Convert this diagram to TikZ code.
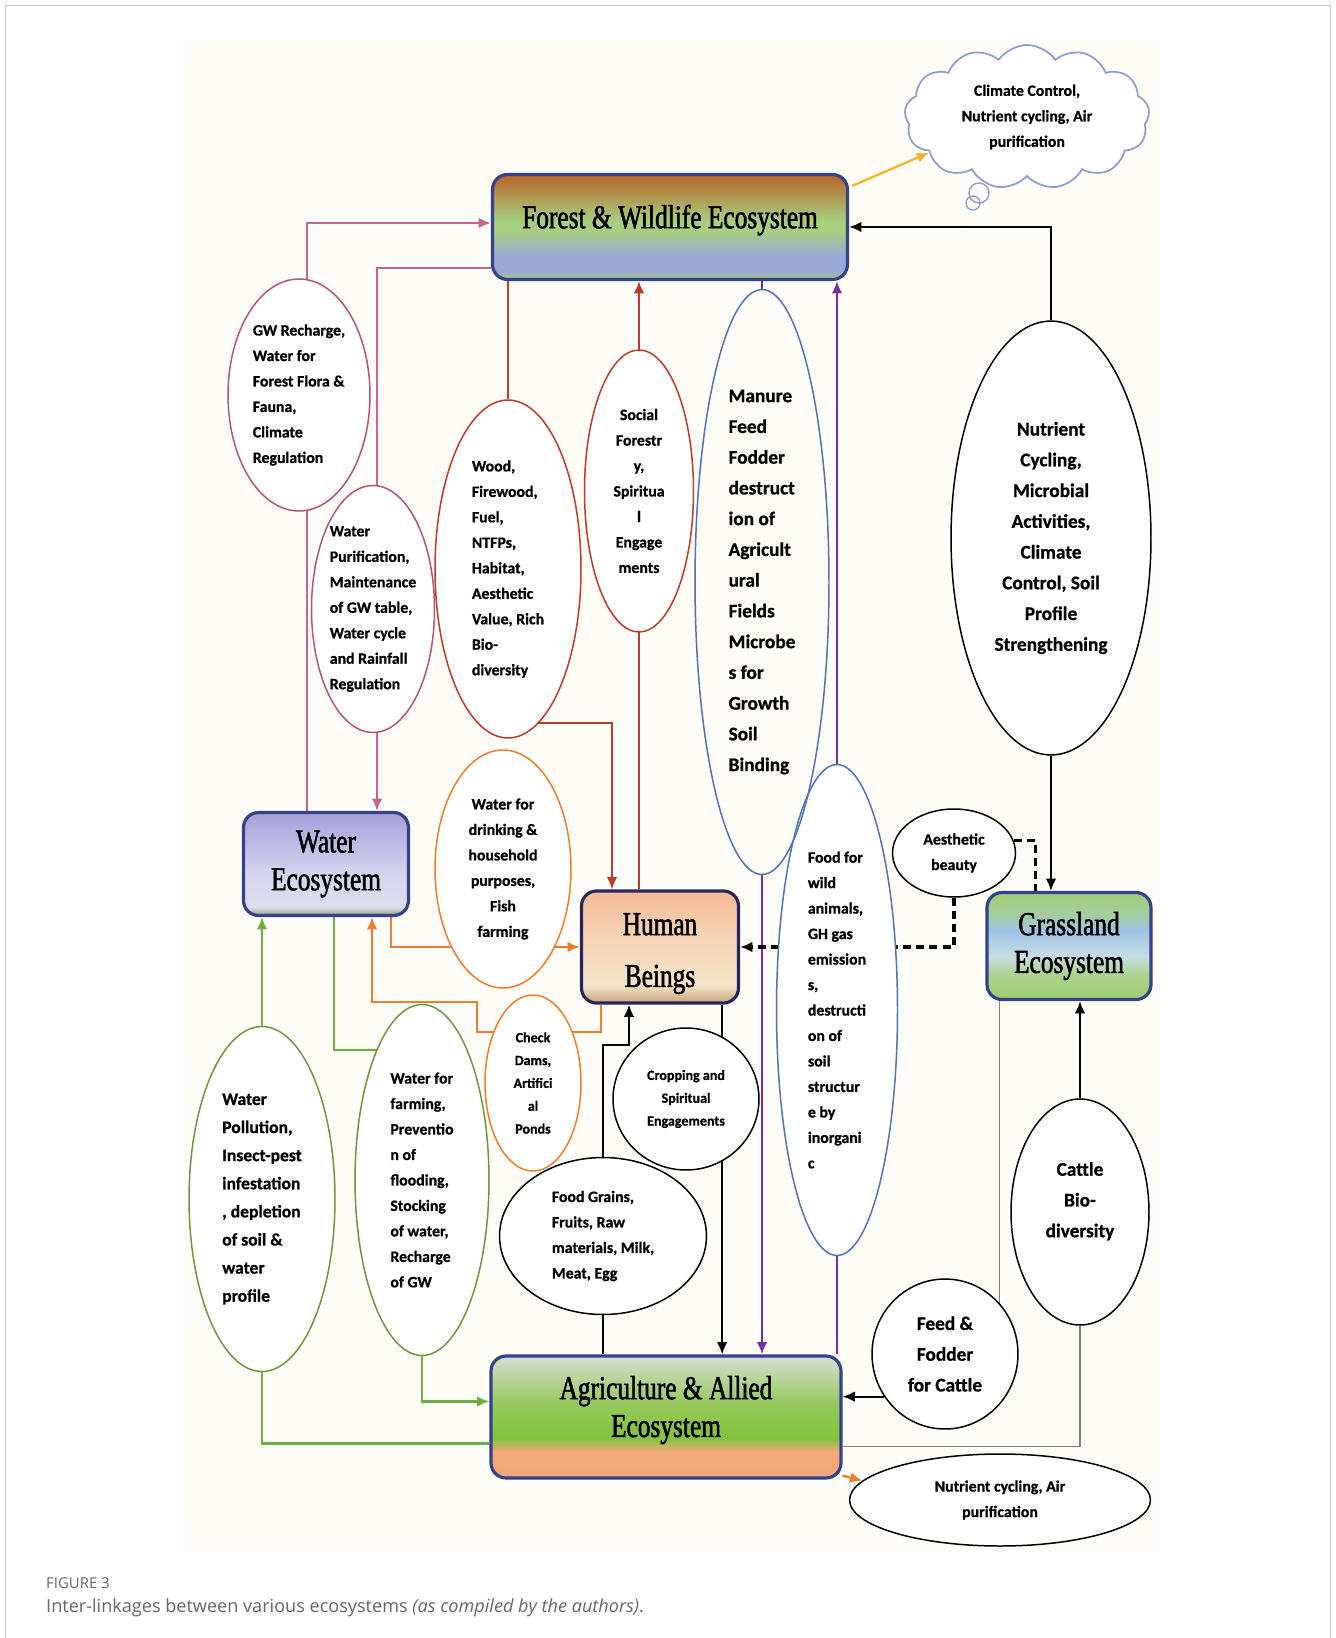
\documentclass[tikz,border=0pt]{standalone}
\usepackage{fontspec}
\setmainfont{Carlito}[BoldFeatures={FakeBold=0.8}]
\newfontfamily\titlefont[FakeStretch=0.76,FakeBold=1.6]{Liberation Serif}
\newfontfamily\capfont{Open Sans}
\usetikzlibrary{shapes.geometric,shapes.symbols,arrows.meta,calc}

\pgfdeclarelayer{back}
\pgfdeclarelayer{links}
\pgfsetlayers{back,links,main}

% colours
\definecolor{ecoblue}{RGB}{52,65,140}
\definecolor{humanblue}{RGB}{42,36,92}
\definecolor{pinkc}{RGB}{198,100,146}
\definecolor{pinke}{RGB}{180,84,124}
\definecolor{redc}{RGB}{192,57,43}
\definecolor{bluee}{RGB}{79,115,184}
\definecolor{purp}{RGB}{123,45,158}
\definecolor{orgc}{RGB}{240,124,44}
\definecolor{grnc}{RGB}{108,176,62}
\definecolor{grne}{RGB}{110,150,62}
\definecolor{yelc}{RGB}{245,180,40}
\definecolor{cloudc}{RGB}{142,158,208}
\definecolor{paper}{RGB}{253,252,246}

% box shadings (25bp = bottom, 75bp = top)
\pgfdeclareverticalshading{forestshade}{100bp}{color(0bp)=(rgb,255:red,160;green,204;blue,122);
  color(25bp)=(rgb,255:red,160;green,204;blue,122); color(29bp)=(rgb,255:red,155;green,168;blue,214);
  color(36bp)=(rgb,255:red,155;green,168;blue,214); color(48bp)=(rgb,255:red,168;green,206;blue,128);
  color(53bp)=(rgb,255:red,168;green,206;blue,128); color(75bp)=(rgb,255:red,184;green,100;blue,40);
  color(100bp)=(rgb,255:red,184;green,100;blue,40)}
\pgfdeclareverticalshading{watershade}{100bp}{color(0bp)=(rgb,255:red,140;green,155;blue,120);
  color(25bp)=(rgb,255:red,140;green,155;blue,120); color(29bp)=(rgb,255:red,220;green,222;blue,236);
  color(45bp)=(rgb,255:red,214;green,212;blue,240); color(75bp)=(rgb,255:red,166;green,160;blue,218);
  color(100bp)=(rgb,255:red,166;green,160;blue,218)}
\pgfdeclareverticalshading{humanshade}{100bp}{color(0bp)=(rgb,255:red,200;green,165;blue,125);
  color(25bp)=(rgb,255:red,200;green,165;blue,125); color(33bp)=(rgb,255:red,245;green,228;blue,200);
  color(55bp)=(rgb,255:red,246;green,210;blue,180); color(75bp)=(rgb,255:red,244;green,186;blue,150);
  color(100bp)=(rgb,255:red,244;green,186;blue,150)}
\pgfdeclareverticalshading{grassshade}{100bp}{color(0bp)=(rgb,255:red,160;green,205;blue,115);
  color(25bp)=(rgb,255:red,160;green,205;blue,115); color(36bp)=(rgb,255:red,172;green,210;blue,138);
  color(45bp)=(rgb,255:red,200;green,220;blue,226); color(57bp)=(rgb,255:red,160;green,195;blue,230);
  color(66bp)=(rgb,255:red,165;green,205;blue,150); color(75bp)=(rgb,255:red,160;green,205;blue,120);
  color(100bp)=(rgb,255:red,160;green,205;blue,120)}
\pgfdeclareverticalshading{agrishade}{100bp}{color(0bp)=(rgb,255:red,242;green,166;blue,121);
  color(25bp)=(rgb,255:red,242;green,166;blue,121); color(36bp)=(rgb,255:red,242;green,170;blue,120);
  color(41bp)=(rgb,255:red,130;green,195;blue,60); color(55bp)=(rgb,255:red,150;green,200;blue,90);
  color(75bp)=(rgb,255:red,215;green,222;blue,210); color(100bp)=(rgb,255:red,215;green,222;blue,210)}

\tikzset{
  eco/.style={draw=ecoblue, line width=1.8pt, rounded corners=0.3cm, shade,
    font=\titlefont\fontsize{19}{21.5}\selectfont, align=center, inner sep=0pt},
  ell/.style={ellipse, draw, fill=white, inner sep=0pt, line width=0.85pt,
    font=\bfseries\fontsize{9}{14.5}\selectfont},
  bigtxt/.style={font=\bfseries\fontsize{11}{17.5}\selectfont},
  smalltxt/.style={font=\bfseries\fontsize{8}{13}\selectfont},
  link/.style={line width=1.3pt},
  dashlink/.style={line width=2pt, dash pattern=on 4.5pt off 3pt},
  thinlink/.style={line width=0.6pt, draw=gray},
}

\begin{document}
\begin{tikzpicture}[x=0.02cm, y=-0.02cm, >={Latex[length=7pt,width=6pt]}]
\useasboundingbox (0,0) rectangle (1335,1638);

% page frame and paper
\begin{pgfonlayer}{back}
  \fill[paper] (183,42) rectangle (1160,1550);
  \draw[gray!45] (5,1660) |- (1330,5) -- (1330,1660);
\end{pgfonlayer}

% ecosystems
\node[eco, shading=forestshade, minimum width=7.1cm, minimum height=2.1cm] (forest) at (670,227)
  {Forest \& Wildlife Ecosystem\rule[-12pt]{0pt}{0pt}};
\node[eco, shading=watershade, minimum width=3.3cm, minimum height=2.06cm] (water) at (326,864) {Water\\Ecosystem};
\node[eco, shading=humanshade, draw=humanblue, minimum width=3.14cm, minimum height=2.24cm] (human) at (660,947)
  {\rule{0pt}{20pt}Human\\[8pt]Beings};
\node[eco, shading=grassshade, minimum width=3.28cm, minimum height=2.14cm] (grass) at (1069,946) {Grassland\\Ecosystem};
\node[eco, shading=agrishade, minimum width=7cm, minimum height=2.44cm] (agri) at (666,1417)
  {Agriculture \& Allied\\Ecosystem\rule[-12pt]{0pt}{0pt}};

% cloud of services
\node[cloud, cloud puffs=13, cloud puff arc=110, aspect=1.7, draw=cloudc, line width=1pt, fill=white,
  minimum width=4.9cm, minimum height=2.88cm, align=center, inner sep=0pt,
  font=\bfseries\fontsize{9}{14.5}\selectfont] (cloud) at (1027,117)
  {Climate Control,\\Nutrient cycling, Air\\purification};
\draw[cloudc, line width=0.8pt, fill=white] (979,193) circle[radius=0.2cm];
\draw[cloudc, line width=0.8pt] (973,203) circle[radius=0.14cm];

% services
\node[ell, draw=pinke, align=left, minimum width=2.84cm, minimum height=4.64cm] (gw) at (299,395)
  {GW Recharge,\\Water for\\Forest Flora \&\\Fauna,\\Climate\\Regulation};
\node[ell, draw=pinke, align=left, minimum width=2.46cm, minimum height=4.94cm] (wpur) at (373,609)
  {Water\\Purification,\\Maintenance\\of GW table,\\Water cycle\\and Rainfall\\Regulation};
\node[ell, draw=redc, align=left, minimum width=2.92cm, minimum height=6.76cm] (wood) at (508,569)
  {Wood,\\Firewood,\\Fuel,\\NTFPs,\\Habitat,\\Aesthetic\\Value, Rich\\Bio-\\diversity};
\node[ell, draw=redc, align=center, minimum width=2.18cm, minimum height=5.64cm] (social) at (639,491)
  {Social\\Forestr\\y,\\Spiritua\\l\\Engage\\ments};
\node[ell, bigtxt, align=center, minimum width=4cm, minimum height=8.68cm] (nutr) at (1051,538)
  {Nutrient\\Cycling,\\Microbial\\Activities,\\Climate\\Control, Soil\\Profile\\Strengthening};
\node[ell, draw=orgc, align=center, minimum width=2.72cm, minimum height=4.76cm] (wdrink) at (503,869)
  {Water for\\drinking \&\\household\\purposes,\\Fish\\farming};
\node[ell, align=center, minimum width=2.46cm, minimum height=1.76cm] (aes) at (954,853)
  {Aesthetic\\beauty};
\node[ell, draw=bluee, align=left, minimum width=2.42cm, minimum height=9.82cm] (wildfood) at (837,1010)
  {Food for\\wild\\animals,\\GH gas\\emission\\s,\\destructi\\on of\\soil\\structur\\e by\\inorgani\\c};
\node[ell, bigtxt, draw=bluee, fill=none, align=left, minimum width=2.68cm, minimum height=11.7cm] (manure) at (762,582)
  {Manure\\Feed\\Fodder\\destruct\\ion of\\Agricult\\ural\\Fields\\Microbe\\s for\\Growth\\Soil\\Binding};
\node[ell, smalltxt, draw=orgc, align=center, minimum width=1.92cm, minimum height=3.52cm] (check) at (533,1083)
  {Check\\Dams,\\Artifici\\al\\Ponds};
\node[ell, smalltxt, align=center, minimum width=2.92cm, minimum height=2.84cm] (crop) at (686,1099)
  {Cropping and\\Spiritual\\Engagements};
\node[ell, align=left, minimum width=4.14cm, minimum height=3.14cm] (grains) at (603,1236)
  {Food Grains,\\Fruits, Raw\\materials, Milk,\\Meat, Egg};
\node[ell, draw=grne, align=left, font=\bfseries\fontsize{10}{16}\selectfont,
  minimum width=2.92cm, minimum height=6.9cm] (pollu) at (262,1199)
  {Water\\Pollution,\\Insect-pest\\infestation\\, depletion\\of soil \&\\water\\profile};
\node[ell, draw=grne, align=left, minimum width=2.68cm, minimum height=7.02cm] (wfarm) at (422,1180)
  {Water for\\farming,\\Preventio\\n of\\flooding,\\Stocking\\of water,\\Recharge\\of GW};
\node[ell, bigtxt, align=center, minimum width=2.76cm, minimum height=4.52cm] (cattle) at (1080,1212)
  {Cattle\\Bio-\\diversity\rule[-14pt]{0pt}{0pt}};
\node[ell, bigtxt, align=center, minimum width=2.92cm, minimum height=3cm] (feed) at (945,1354)
  {Feed \&\\Fodder\\for Cattle};
\node[ell, align=center, minimum width=6.02cm, minimum height=1.84cm] (nutr2) at (1000,1500)
  {Nutrient cycling, Air\\purification};

% bend points
\coordinate (gwl) at (307,223);
\coordinate (wpl) at (377,268);
\coordinate (wdl) at (612,723);
\coordinate (kb) at (629,1045);
\coordinate (ck1) at (477,1032);
\coordinate (ck2) at (372,1002);
\coordinate (wf1) at (400,1050);

\begin{pgfonlayer}{links}
  % water <-> forest
  \draw[link, pinkc, ->] (water.north -| gwl) -- (gwl) -- (gwl -| forest.west);
  \draw[link, pinkc, ->] (forest.west |- wpl) -- (wpl) -- (wpl |- water.north);
  % forest <-> human
  \draw[link, redc] (wood.north) -- (wood.north |- forest.south);
  \draw[link, redc, ->] (wood |- wdl) -- (wdl) -- (wdl |- human.north);
  \draw[link, redc, ->] (human.north -| social) -- (forest.south -| social);
  % forest <-> agriculture
  \draw[link, purp] (manure.north) -- (manure.north |- forest.south);
  \draw[link, purp, ->] (manure.south) -- (manure.south |- agri.north);
  \draw[link, purp, ->] (agri.north -| wildfood) -- (forest.south -| wildfood);
  % forest <-> grassland
  \draw[link, ->] (nutr.north) |- (forest.east);
  \draw[link, ->] (nutr.south) -- (nutr.south |- grass.north);
  \draw[dashlink] (aes.12) -| ($(grass.north west)+(50,0)$);
  \draw[dashlink, ->] (aes.south) |- (human.east);
  % human <-> agriculture
  \draw[link, ->] ($(human.south east)+(-18,0)$) coordinate (hb) -- (hb |- agri.north);
  \draw[link, ->] (agri.north -| grains) |- (kb) -- (kb |- human.south);
  % water <-> human
  \draw[link, orgc, ->] ($(water.south east)+(-19,0)$) |- (human.west);
  \draw[link, orgc, ->] ($(human.south west)+(21,0)$) |- (ck1) |- (ck2) -- (ck2 |- water.south);
  % water <-> agriculture
  \draw[link, grnc, ->] ($(agri.south west)+(0,-36)$) -| (pollu |- water.south);
  \draw[link, grnc] ($(water.south west)+(92,0)$) |- (wf1);
  \draw[link, grnc, ->] (wfarm.south) |- ($(agri.north west)+(0,47)$);
  % grassland <-> agriculture
  \draw[link, ->] (cattle.north) -- (cattle.north |- grass.south);
  \draw[thinlink] ($(grass.south west)+(14,0)$) coordinate (gb) -- (gb |- feed.center);
  \draw[thinlink] (cattle.south) |- ($(agri.south east)+(0,-33)$);
  \draw[link, ->] (feed.215) -- (feed.215 -| agri.east);
  % outputs
  \draw[link, yelc, ->] ($(forest.north east)+(3,13)$) -- (cloud.200);
  \draw[link, orgc, ->] ($(agri.south east)+(0,-4)$) -- (nutr2.172);
\end{pgfonlayer}

% caption
\node[anchor=base west, font=\capfont\fontsize{8.5}{10}\selectfont, text=gray!80!black] (fig) at (40,1588) {FIGURE 3};
\node[anchor=base west, font=\capfont\fontsize{10.3}{12}\selectfont, text=gray!80!black] (cap) at (40,1612)
  {Inter-linkages between various ecosystems \textit{(as compiled by the authors)}.};
\end{tikzpicture}
\end{document}
